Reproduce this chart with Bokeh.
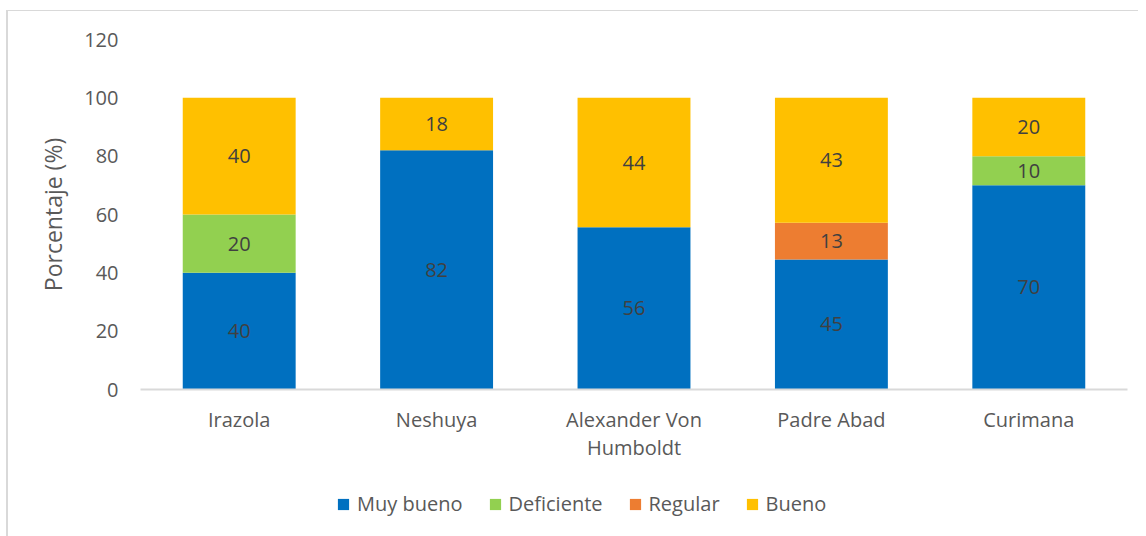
from bokeh.plotting import figure
from bokeh.layouts import column
from bokeh.models import FactorRange, Range1d, FixedTicker, Legend, LegendItem, ColumnDataSource
from bokeh.core.properties import value
from bokeh.embed import file_html
from bokeh.resources import INLINE

categories = ["Irazola", "Neshuya", "Alexander Von\nHumboldt", "Padre Abad", "Curimana"]
series = ["Muy bueno", "Deficiente", "Regular", "Bueno"]
muy_bueno = [40, 82, 55.6, 44.6, 70]
deficiente = [20, 0, 0, 0, 10]
regular = [0, 0, 0, 12.6, 0]
bueno = [40, 18, 44.4, 42.8, 20]
colors = ["#0070C0", "#92D050", "#ED7D31", "#FFC000"]
y_ticks = [0, 20, 40, 60, 80, 100, 120]

FONT = "Open Sans"
GREY = "#595959"

src = ColumnDataSource(dict(cat=categories, **{
    "Muy bueno": muy_bueno, "Deficiente": deficiente, "Regular": regular, "Bueno": bueno}))

p = figure(x_range=FactorRange(factors=categories, range_padding=0),
           y_range=Range1d(0, 120),
           width=1130, height=468,
           min_border_left=132, min_border_right=11, min_border_top=28, min_border_bottom=90,
           output_backend="svg", toolbar_location=None)

p.vbar_stack(series, x="cat", width=0.572, color=colors, line_color=None, source=src)

# data labels
all_vals = [muy_bueno, deficiente, regular, bueno]
lx, ly, lt = [], [], []
for i, c in enumerate(categories):
    base = 0
    for vals in all_vals:
        v = vals[i]
        if v > 0:
            lx.append(c)
            ly.append(base + v / 2)
            lt.append(str(int(round(v))))
        base += v
p.text(x=lx, y=ly, text=lt, text_align="center", text_baseline="middle",
       text_font=value(FONT), text_font_size="20px", text_color="#404040")

p.grid.visible = False
p.outline_line_color = None
p.background_fill_color = "white"

ya = p.yaxis[0]
ya.ticker = FixedTicker(ticks=y_ticks)
ya.axis_line_color = None
ya.major_tick_line_color = None
ya.minor_tick_line_color = None
ya.major_label_text_font = FONT
ya.major_label_text_font_size = "20px"
ya.major_label_text_color = GREY
ya.major_label_standoff = 16
ya.axis_label = "Porcentaje (%)"
ya.axis_label_text_font = FONT
ya.axis_label_text_font_size = "23px"
ya.axis_label_text_font_style = "normal"
ya.axis_label_text_color = GREY
ya.axis_label_standoff = 12

xa = p.xaxis[0]
xa.axis_line_color = "#d9d9d9"
xa.axis_line_width = 2
xa.major_tick_line_color = None
xa.minor_tick_line_color = None
xa.major_label_text_font = FONT
xa.major_label_text_font_size = "20px"
xa.major_label_text_color = GREY
xa.major_label_standoff = 10
xa.major_label_text_line_height = 1.05

# legend strip below the chart (same series; view range keeps its bars out of sight)
lp = figure(width=1130, height=57, x_range=FactorRange(factors=categories), y_range=Range1d(200, 300),
            min_border=0, x_axis_location=None, y_axis_location=None,
            output_backend="svg", toolbar_location=None)
lp.grid.visible = False
lp.outline_line_color = None
lr = lp.vbar_stack(series, x="cat", width=0.572, color=colors, line_color=None, source=src)
legend = Legend(items=[LegendItem(label=s, renderers=[r]) for s, r in zip(series, lr)],
                orientation="horizontal", location=(196, 19),
                label_text_font=FONT, label_text_font_size="20px", label_text_color=GREY,
                glyph_width=14, glyph_height=14, label_standoff=7, spacing=25,
                border_line_color=None, background_fill_alpha=0, margin=0, padding=0)
lp.add_layout(legend, "center")

layout = column(p, lp, spacing=0)
layout.margin = (10, 0, 0, 6)
layout.styles = {"border-left": "2px solid #d9d9d9", "border-top": "1px solid #d9d9d9"}

open("out.html", "w").write(file_html(layout, INLINE))
